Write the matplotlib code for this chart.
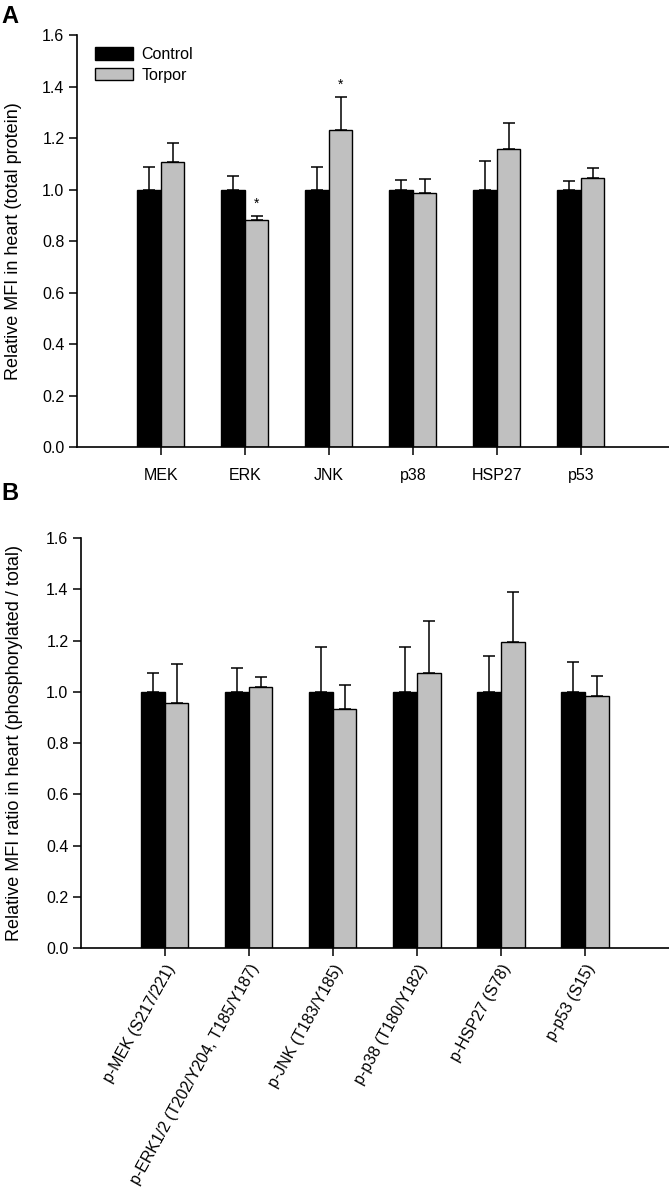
import numpy as np
import matplotlib
matplotlib.use("Agg")
from matplotlib import pyplot as plt
from matplotlib.patches import Patch

plt.rcParams['font.family'] = ['Liberation Sans', 'DejaVu Sans']

# Panel A: total protein
labels_a = ['MEK', 'ERK', 'JNK', 'p38', 'HSP27', 'p53']
control_a = [1.0, 1.0, 1.0, 1.0, 1.0, 1.0]
control_a_err = [0.086, 0.051, 0.089, 0.036, 0.112, 0.033]
torpor_a = [1.108, 0.880, 1.232, 0.988, 1.159, 1.046]
torpor_a_err = [0.074, 0.017, 0.126, 0.053, 0.101, 0.039]
stars_a = [False, True, True, False, False, False]

# Panel B: phosphorylated / total
labels_b = ['p-MEK (S217/221)', 'p-ERK1/2 (T202/Y204, T185/Y187)', 'p-JNK (T183/Y185)',
            'p-p38 (T180/Y182)', 'p-HSP27 (S78)', 'p-p53 (S15)']
control_b = [1.0, 1.0, 1.0, 1.0, 1.0, 1.0]
control_b_err = [0.072, 0.094, 0.176, 0.176, 0.141, 0.117]
torpor_b = [0.956, 1.017, 0.933, 1.072, 1.196, 0.982]
torpor_b_err = [0.151, 0.042, 0.094, 0.205, 0.193, 0.079]

BLACK = '#000000'
GRAY = '#c0c0c0'
WIDTH = 0.28


def draw_panel(ax, labels, ctrl, ctrl_err, torp, torp_err, ylabel, xlim, label_x):
    x = np.arange(1, len(labels) + 1)
    err_kw = dict(capsize=4.2, elinewidth=1.1, capthick=1.1, ecolor='black')
    ax.bar(x - WIDTH / 2, ctrl, WIDTH, color=BLACK, edgecolor='black', linewidth=1.0,
           yerr=[np.zeros(len(ctrl)), ctrl_err], error_kw=err_kw, zorder=2)
    ax.bar(x + WIDTH / 2, torp, WIDTH, color=GRAY, edgecolor='black', linewidth=1.0,
           yerr=[np.zeros(len(torp)), torp_err], error_kw=err_kw, zorder=2)
    ax.set_xlim(*xlim)
    ax.set_ylim(0, 1.6)
    ax.set_yticks(np.arange(0, 1.61, 0.2))
    ax.set_yticklabels([f'{v:.1f}' for v in np.arange(0, 1.61, 0.2)])
    ax.set_xticks(x)
    ax.spines['top'].set_visible(False)
    ax.spines['right'].set_visible(False)
    ax.spines['left'].set_linewidth(1.2)
    ax.spines['bottom'].set_linewidth(1.2)
    ax.tick_params(direction='out', length=6, width=1.1, labelsize=11.5)
    ax.tick_params(axis='y', pad=3)
    ax.set_ylabel(ylabel, fontsize=13)
    ax.yaxis.set_label_coords(label_x, 0.5)
    return x


fig = plt.figure(figsize=(6.69, 11.94), dpi=100)

ax_a = fig.add_axes([0.115, 0.6256, 0.885, 0.345])
x = draw_panel(ax_a, labels_a, control_a, control_a_err, torpor_a, torpor_a_err,
               'Relative MFI in heart (total protein)', (0.0, 7.05), -0.092)
ax_a.set_xticklabels(labels_a)
ax_a.tick_params(axis='x', pad=9)
for xi, t, e, s in zip(x, torpor_a, torpor_a_err, stars_a):
    if s:
        ax_a.text(xi + WIDTH / 2, t + e + 0.02, '*', ha='center', va='bottom', fontsize=10)

handles = [Patch(facecolor=BLACK, edgecolor='black'), Patch(facecolor=GRAY, edgecolor='black')]
fig.legend(handles, ['Control', 'Torpor'], loc='upper left',
           bbox_to_anchor=(95 / 669, 1 - 47 / 1194), frameon=False, fontsize=11.5,
           handlelength=2.35, handleheight=0.8, handletextpad=0.55, labelspacing=0.35,
           borderpad=0, borderaxespad=0)

ax_b = fig.add_axes([0.121, 0.206, 0.879, 0.3434])
x = draw_panel(ax_b, labels_b, control_b, control_b_err, torpor_b, torpor_b_err,
               'Relative MFI ratio in heart (phosphorylated / total)', (0.0, 7.0), -0.099)
ax_b.set_xticklabels(labels_b, rotation=61, ha='right', va='top', rotation_mode='anchor')
ax_b.tick_params(axis='x', pad=4)

fig.text(0.002, 1 - 5 / 1194, 'A', fontsize=17, fontweight='bold', ha='left', va='top')
fig.text(0.002, 1 - 482 / 1194, 'B', fontsize=17, fontweight='bold', ha='left', va='top')

fig.savefig('out.png', dpi=100)
